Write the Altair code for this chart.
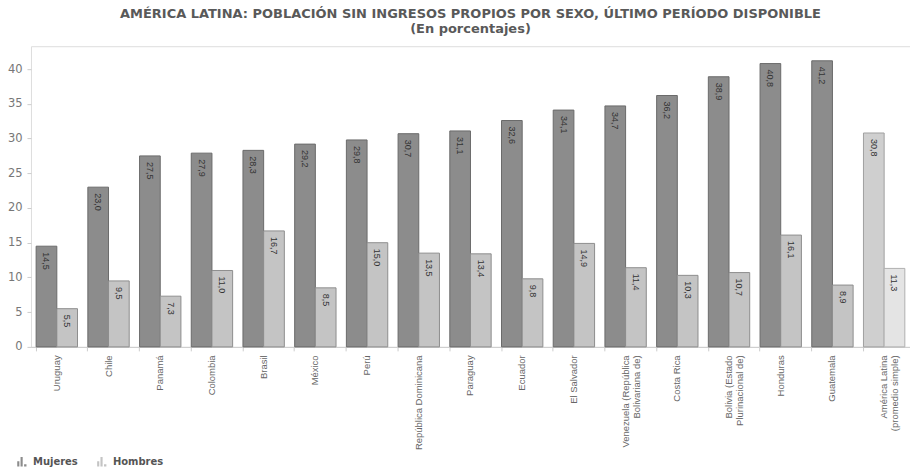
import altair as alt
import pandas as pd

countries = ["Uruguay", "Chile", "Panamá", "Colombia", "Brasil", "México", "Perú",
             "República Dominicana", "Paraguay", "Ecuador", "El Salvador",
             "Venezuela (República|Bolivariana de)", "Costa Rica",
             "Bolivia (Estado|Plurinacional de)", "Honduras", "Guatemala",
             "América Latina|(promedio simple)"]
mujeres = [14.5, 23.0, 27.5, 27.9, 28.3, 29.2, 29.8, 30.7, 31.1, 32.6, 34.1, 34.7, 36.2, 38.9, 40.8, 41.2, 30.8]
hombres = [5.5, 9.5, 7.3, 11.0, 16.7, 8.5, 15.0, 13.5, 13.4, 9.8, 14.9, 11.4, 10.3, 10.7, 16.1, 8.9, 11.3]
series = ["Mujeres", "Hombres"]
y_ticks = [0, 5, 10, 15, 20, 25, 30, 35, 40]

rows = []
for c, m, h in zip(countries, mujeres, hombres):
    avg = c.startswith("América Latina")
    rows.append({"country": c, "sex": "Mujeres", "value": m, "key": "Mujeres" + (" (AL)" if avg else "")})
    rows.append({"country": c, "sex": "Hombres", "value": h, "key": "Hombres" + (" (AL)" if avg else "")})
df = pd.DataFrame(rows)

narrow = "Liberation Sans, Arial, sans-serif"
wide = "DejaVu Sans, Verdana, sans-serif"

keys = ["Mujeres", "Hombres", "Mujeres (AL)", "Hombres (AL)"]
fills = ["#8c8c8c", "#c4c4c4", "#cfcfcf", "#e4e4e4"]
strokes = ["#6a6a6a", "#8e8e8e", "#a0a0a0", "#b0b0b0"]

legend_path = "M-1,1 L-0.55,1 L-0.55,-0.1 L-1,-0.1 Z M-0.3,1 L0.15,1 L0.15,-1 L-0.3,-1 Z M0.45,1 L0.95,1 L0.95,0.55 L0.45,0.55 Z"

x = alt.X("country:N", sort=countries, title=None,
          scale=alt.Scale(paddingInner=0.2, paddingOuter=0.1),
          axis=alt.Axis(labelAngle=270, labelFont=narrow, labelFontSize=9.5,
                        labelColor="#666666", labelExpr="split(datum.label, '|')",
                        labelPadding=4, tickColor="#cccccc", tickSize=4,
                        domainColor="#cccccc", bandPosition=0, labelBound=False,
                        labelOverlap=False, labelLimit=200, labelLineHeight=11))
xoff = alt.XOffset("sex:N", sort=series)
y = alt.Y("value:Q", title=None,
          scale=alt.Scale(domain=[0, 43.3], nice=False),
          axis=alt.Axis(values=y_ticks, grid=False, labelFont=wide, labelFontSize=11.5,
                        labelColor="#777777", domain=False, tickColor="#cccccc",
                        tickSize=4, labelPadding=5))

base = alt.Chart(df)

bars = base.mark_bar(strokeWidth=1).encode(
    x=x, xOffset=xoff, y=y,
    fill=alt.Fill("key:N", scale=alt.Scale(domain=keys, range=fills),
                  legend=alt.Legend(values=series, title=None, orient="none",
                                    legendX=-14, legendY=411, direction="horizontal",
                                    symbolType=legend_path, symbolSize=90,
                                    symbolStrokeWidth=0, labelFont=wide,
                                    labelFontSize=10, labelFontWeight="bold",
                                    labelColor="#555555", columnPadding=19,
                                    labelOffset=6)),
    stroke=alt.Stroke("key:N", scale=alt.Scale(domain=keys, range=strokes), legend=None),
)

labels = base.transform_calculate(
    lbl="replace(format(datum.value, '.1f'), '.', ',')"
).mark_text(angle=90, align="left", baseline="middle", dx=6, font=narrow,
            fontSize=9, color="#333333").encode(
    x=x, xOffset=xoff, y=y, text="lbl:N")

chart = alt.layer(bars, labels).properties(
    width=880, height=301,
    title=alt.TitleParams(
        "AMÉRICA LATINA: POBLACIÓN SIN INGRESOS PROPIOS POR SEXO, ÚLTIMO PERÍODO DISPONIBLE",
        subtitle="(En porcentajes)", font=wide, fontSize=13, fontWeight="bold",
        color="#595959", subtitleFont=wide, subtitleFontSize=13,
        subtitleFontWeight="bold", subtitleColor="#595959", subtitlePadding=2,
        anchor="middle", offset=10),
    autosize=alt.AutoSizeParams(type="none"),
    padding={"left": 31, "top": 46, "right": 0, "bottom": 122},
).configure_view(stroke="#d4d4d4", strokeWidth=1.5).configure(background="white")

chart.save("out.html", embed_options={"renderer": "svg", "actions": False})
